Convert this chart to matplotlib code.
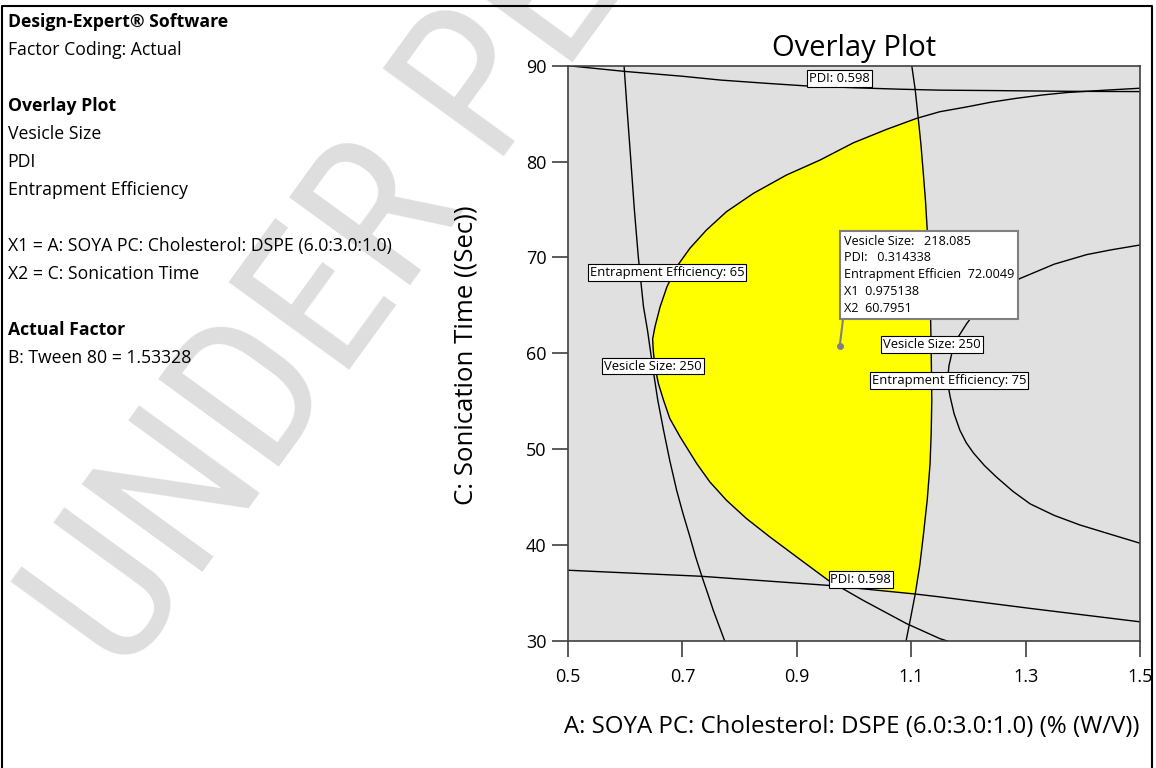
import matplotlib
matplotlib.use('Agg')
import matplotlib.pyplot as plt
from matplotlib.lines import Line2D

plt.rcParams['font.family'] = ['Open Sans', 'DejaVu Sans']

# contour lines (x = A, y = C)
pdi_top_x = [0.5, 0.6, 0.7, 0.767, 0.85, 0.914, 1.0, 1.08, 1.15, 1.255, 1.372, 1.5]
pdi_top_y = [90.0, 89.4, 88.9, 88.5, 88.15, 87.9, 87.7, 87.55, 87.45, 87.4, 87.33, 87.3]

pdi_bot_x = [0.5, 0.733, 0.955, 1.107, 1.15, 1.308, 1.5]
pdi_bot_y = [37.38, 36.75, 35.8, 34.9, 34.6, 33.4, 32.0]

vs_left_x = [0.598, 0.603, 0.610, 0.616, 0.623, 0.632, 0.639, 0.649, 0.657, 0.667, 0.678, 0.690,
             0.701, 0.713, 0.723, 0.734, 0.744, 0.754, 0.764, 0.774]
vs_left_y = [90.0, 85.7, 80.0, 75.0, 70.0, 64.85, 62.4, 58.2, 55.1, 52.0, 48.8, 45.7,
             43.3, 40.9, 38.8, 36.75, 35.0, 33.2, 31.6, 30.0]

vs_right_x = [1.101, 1.107, 1.112, 1.117, 1.121, 1.125, 1.128, 1.130, 1.132, 1.134, 1.135, 1.136,
              1.135, 1.133, 1.128, 1.121, 1.115, 1.107, 1.099, 1.091]
vs_right_y = [90.0, 87.5, 84.7, 81.8, 78.9, 75.9, 72.9, 69.9, 66.9, 63.4, 60.0, 55.1,
              51.8, 48.5, 44.7, 40.9, 37.9, 34.9, 32.4, 30.0]

ee65_x = [1.5, 1.44, 1.372, 1.33, 1.284, 1.24, 1.197, 1.150, 1.1096, 1.057, 0.999, 0.9406, 0.882,
          0.824, 0.777, 0.742, 0.713, 0.690, 0.673, 0.661, 0.652, 0.648, 0.649, 0.652, 0.658,
          0.667, 0.678, 0.696, 0.725, 0.748, 0.777, 0.812, 0.853, 0.900, 0.955, 1.016, 1.092,
          1.150, 1.163]
ee65_y = [87.65, 87.45, 87.2, 86.95, 86.6, 86.2, 85.7, 85.2, 84.51, 83.36, 81.96, 80.16, 78.6,
          76.68, 74.77, 72.86, 70.95, 69.03, 66.94, 64.85, 62.76, 61.5, 60.33, 58.59, 56.86,
          55.12, 53.2, 51.29, 48.51, 46.59, 44.68, 42.77, 40.85, 38.76, 36.33, 34.24, 31.81,
          30.25, 30.0]

ee75_x = [1.5, 1.45, 1.407, 1.35, 1.290, 1.24, 1.215, 1.197, 1.181, 1.171, 1.166, 1.164, 1.165,
          1.168, 1.175, 1.185, 1.196, 1.209, 1.228, 1.249, 1.278, 1.308, 1.35, 1.395, 1.45, 1.5]
ee75_y = [71.3, 70.8, 70.3, 69.3, 67.8, 65.7, 64.5, 63.1, 61.6, 60.0, 58.7, 57.5, 56.5,
          55.5, 53.7, 52.0, 50.7, 49.6, 48.3, 47.1, 45.6, 44.3, 43.1, 42.1, 41.1, 40.2]

# where EE 65 crosses the lower PDI line
cross_x, cross_y = 0.972, 35.7

label_text = ['PDI: 0.598', 'Entrapment Efficiency: 65', 'Vesicle Size: 250',
              'Vesicle Size: 250', 'Entrapment Efficiency: 75', 'PDI: 0.598']
label_x = [0.975, 0.673, 0.649, 1.136, 1.166, 1.012]
label_y = [88.7, 68.45, 58.68, 60.93, 57.17, 36.4]

flag_x = 0.975138
flag_y = 60.7951
flag_lines = ['Vesicle Size:   218.085', 'PDI:   0.314338', 'Entrapment Efficien  72.0049',
              'X1  0.975138', 'X2  60.7951']

info_lines = ['Design-Expert® Software', 'Factor Coding: Actual', '',
              'Overlay Plot', 'Vesicle Size', 'PDI', 'Entrapment Efficiency', '',
              'X1 = A: SOYA PC: Cholesterol: DSPE (6.0:3.0:1.0)', 'X2 = C: Sonication Time', '',
              'Actual Factor', 'B: Tween 80 = 1.53328']
info_bold = ['Design-Expert® Software', 'Overlay Plot', 'Actual Factor']

x_ticks = [0.5, 0.7, 0.9, 1.1, 1.3, 1.5]
y_ticks = [30, 40, 50, 60, 70, 80, 90]

# yellow window: EE65 from the top corner down to the PDI line, then back up along VS 250
yx = ee65_x[8:35] + [cross_x] + vs_right_x[17:1:-1]
yy = ee65_y[8:35] + [cross_y] + vs_right_y[17:1:-1]

W, H = 1156, 768
fig = plt.figure(figsize=(W / 100, H / 100), dpi=100)

# watermark behind everything
fig.text(124 / W, 1 - 680 / H, 'UNDER PEER REVIEW', rotation=54, rotation_mode='anchor',
         ha='left', va='baseline', fontsize=151, color='#dedede', fontweight='normal',
         family=['Roboto Condensed', 'Roboto', 'DejaVu Sans'], zorder=-1)

ax = fig.add_axes([568 / W, 1 - 641 / H, 572 / W, 575.3 / H])
ax.set_facecolor('#e0e0e0')
ax.fill(yx, yy, color='#ffff00', lw=0, zorder=1)

for xs, ys in [(pdi_top_x, pdi_top_y), (pdi_bot_x, pdi_bot_y), (vs_left_x, vs_left_y),
               (vs_right_x, vs_right_y), (ee65_x, ee65_y), (ee75_x, ee75_y)]:
    ax.plot(xs, ys, color='black', lw=1.0, zorder=2)

for t, lx, ly in zip(label_text, label_x, label_y):
    ax.text(lx, ly, t, fontsize=9.4, ha='center', va='center', zorder=4,
            bbox=dict(boxstyle='square,pad=0.15', fc='white', ec='black', lw=0.8))

ax.plot([flag_x], [flag_y], 'o', color='#808080', ms=4, zorder=5)
ax.annotate('\n'.join(flag_lines), xy=(flag_x, flag_y), xytext=(2.7, 80),
            textcoords='offset points', ha='left', va='top', fontsize=9.1, linespacing=1.38,
            zorder=6,
            bbox=dict(boxstyle='square,pad=0.3', fc='white', ec='#808080', lw=1.5),
            arrowprops=dict(arrowstyle='-', color='#808080', lw=1.5, relpos=(0, 0),
                            shrinkA=0, shrinkB=0))

ax.set_xlim(0.5, 1.5)
ax.set_ylim(30, 90)
ax.set_xticks(x_ticks)
ax.set_xticklabels([f'{v:g}' for v in x_ticks])
ax.set_yticks(y_ticks)
ax.tick_params(direction='out', length=11.5, width=1.2, color='#404040', labelsize=13)
ax.tick_params(axis='x', pad=8)
ax.tick_params(axis='y', pad=4)
for s in ax.spines.values():
    s.set_color('#404040')
    s.set_linewidth(1.2)

ax.set_title('Overlay Plot', fontsize=21, pad=7)
ax.set_ylabel('C: Sonication Time ((Sec))', fontsize=18.5)
ax.yaxis.set_label_coords(-0.156, 0.497)
ax.set_xlabel('A: SOYA PC: Cholesterol: DSPE (6.0:3.0:1.0) (% (W/V))', fontsize=17.3,
              ha='right')
ax.xaxis.set_label_coords(1.0, -0.128)

# left info panel
for i, line in enumerate(info_lines):
    if not line:
        continue
    fig.text(7.5 / W, 1 - (21.7 + i * 28) / H, line, fontsize=12.7, va='center', ha='left',
             fontweight='bold' if line in info_bold else 'normal')

# outer frame (no bottom edge in the original crop)
fig.add_artist(Line2D([2 / W, 2 / W, 1152 / W, 1152 / W], [0, 1 - 6 / H, 1 - 6 / H, 0],
                      transform=fig.transFigure, color='black', lw=1.5))

fig.savefig('out.png', dpi=100)
